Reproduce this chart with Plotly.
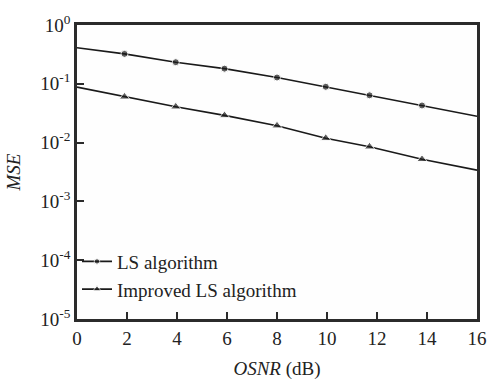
import plotly.graph_objects as go

# OSNR (dB) sample points: curve endpoints plus marker locations
osnr = [0, 1.9, 3.95, 5.9, 8.0, 9.95, 11.7, 13.8, 16]
ls_mse = [0.41, 0.323, 0.233, 0.181, 0.128, 0.089, 0.0637, 0.0428, 0.028]
imp_mse = [0.088, 0.060, 0.0407, 0.029, 0.0194, 0.0119, 0.0085, 0.0052, 0.0034]
marker_on = [0, 1, 1, 1, 1, 1, 1, 1, 0]

x_ticks = [0, 2, 4, 6, 8, 10, 12, 14, 16]
y_tickvals = [1e-5, 1e-4, 1e-3, 1e-2, 1e-1, 1e0]
y_ticktext = ["10<sup>-5</sup>", "10<sup>-4</sup>", "10<sup>-3</sup>",
              "10<sup>-2</sup>", "10<sup>-1</sup>", "10<sup>0</sup>"]

FONT = "Liberation Serif"

fig = go.Figure()
fig.add_trace(go.Scatter(
    x=osnr, y=ls_mse, mode="lines+markers", name="LS algorithm",
    line=dict(color="#1a1a1a", width=1.6),
    marker=dict(symbol="circle", color="#1a1a1a", size=[7 * m for m in marker_on]),
))
fig.add_trace(go.Scatter(
    x=osnr, y=imp_mse, mode="lines+markers", name="Improved LS algorithm",
    line=dict(color="#1a1a1a", width=1.6),
    marker=dict(symbol="triangle-up", color="#1a1a1a", size=[9 * m for m in marker_on]),
))

axis_common = dict(
    showgrid=True, gridcolor="rgba(255,255,255,0)", zeroline=False,
    showline=True, linecolor="#2b2b2b", linewidth=2.5, mirror=True,
    ticks="inside", ticklen=7, tickwidth=2, tickcolor="#2b2b2b",
    tickfont=dict(family=FONT, size=19, color="#222"),
)
fig.update_xaxes(range=[0, 16], tickvals=x_ticks, **axis_common,
                 title=dict(text="<i>OSNR</i> (dB)",
                            font=dict(family=FONT, size=19, color="#222")))
fig.update_yaxes(type="log", range=[-5, 0], tickvals=y_tickvals, ticktext=y_ticktext,
                 **axis_common,
                 title=dict(text="<i>MSE</i>",
                            font=dict(family=FONT, size=19, color="#222")))

fig.update_layout(
    width=499, height=389, margin=dict(l=77, r=13, t=16, b=54),
    paper_bgcolor="white", plot_bgcolor="#fefefe",
    showlegend=True,
    legend=dict(x=0.0, y=0.26, xanchor="left", yanchor="top",
                bgcolor="rgba(0,0,0,0)", borderwidth=0,
                font=dict(family=FONT, size=19, color="#222"),
                tracegroupgap=0, itemwidth=30),
)
fig.write_html("out.html", config={"displayModeBar": False},
               post_script="document.body.style.margin='0';document.body.style.overflow='hidden';")
